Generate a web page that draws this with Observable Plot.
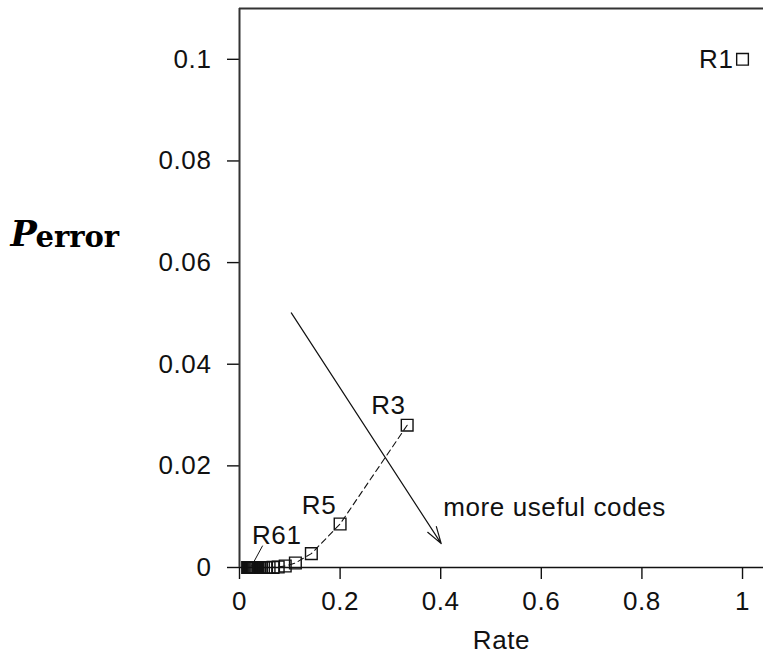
<!DOCTYPE html>
<html>
<head>
<meta charset="utf-8">
<script src="https://cdn.jsdelivr.net/npm/d3@7"></script>
<script src="https://cdn.jsdelivr.net/npm/@observablehq/plot@0.6"></script>
<style>
  html, body { margin: 0; padding: 0; background: #fff; }
  #chart { width: 763px; height: 659px; }
  #chart svg text.sans, #chart svg .sans text { letter-spacing: 0.6px; }
</style>
</head>
<body>
<div id="chart"></div>
<script>
// Repetition codes R_N: rate and bit-error probability (f = 0.1)
const codeNames = ["R1","R3","R5","R7","R9","R11","R13","R15","R17","R19","R21","R23","R25","R27","R29","R31",
                   "R33","R35","R37","R39","R41","R43","R45","R47","R49","R51","R53","R55","R57","R59","R61"];
const rates = [1, 1/3, 1/5, 1/7, 1/9, 1/11, 1/13, 1/15, 1/17, 1/19, 1/21, 1/23, 1/25, 1/27, 1/29, 1/31,
               1/33, 1/35, 1/37, 1/39, 1/41, 1/43, 1/45, 1/47, 1/49, 1/51, 1/53, 1/55, 1/57, 1/59, 1/61];
const perror = [0.1, 0.028, 0.00856, 0.00273, 0.00089, 0.000296, 0.0000993, 0.000034, 0.0000115, 0.0000039,
                0.00000135, 0.00000047, 0.00000016, 0.000000057, 0.00000002, 0.000000007,
                0.0000000025, 0.0000000009, 0.0000000003, 0.0000000001, 0.00000000004, 0.000000000014,
                0.000000000005, 0.0000000000018, 0.0000000000006, 0.0000000000002, 0.00000000000008,
                0.00000000000003, 0.00000000000001, 0.000000000000004, 0.0000000000000015];

const xTicks = [0, 0.2, 0.4, 0.6, 0.8, 1];
const yTicks = [0, 0.02, 0.04, 0.06, 0.08, 0.1];
const xTickLabels = ["0", "0.2", "0.4", "0.6", "0.8", "1"];
const yTickLabels = ["0", "0.02", "0.04", "0.06", "0.08", "0.1"];

// annotation labels (in data units)
const labelText = ["R3", "R5", "R61"];
const labelX = [0.296, 0.158, 0.074];
const labelY = [0.0319, 0.0122, 0.0063];
const r1Label = "R1";
const arrowFrom = [0.103, 0.0501];
const arrowTo = [0.401, 0.0047];
const leaderFrom = [0.046, 0.0043];
const leaderTo = [0.0235, 0.0002];
const noteText = "more useful codes";
const notePos = [0.405, 0.0118];

const codes = codeNames.map((name, i) => ({name, rate: rates[i], p: perror[i]}));
const labels = labelText.map((t, i) => ({t, x: labelX[i], y: labelY[i]}));

const font = "Liberation Sans, Arial, Helvetica, sans-serif";
const ink = "#111";
const fs = 26;

const chart = Plot.plot({
  width: 763,
  height: 659,
  marginLeft: 239,
  marginRight: 0,
  marginTop: 8,
  marginBottom: 92,
  style: {fontFamily: font, fontSize: fs + "px", color: ink, background: "#fff", overflow: "visible"},
  x: {domain: [0, 1.0417]},
  y: {domain: [0, 0.11]},
  marks: [
    Plot.axisX({ticks: xTicks, tickFormat: (d, i) => xTickLabels[i], tickSize: 12, tickPadding: 12,
                label: null, fontSize: fs, stroke: ink, strokeWidth: 1.4, className: "sans"}),
    Plot.axisY({ticks: yTicks, tickFormat: (d, i) => yTickLabels[i], tickSize: 12, tickPadding: 16,
                label: null, fontSize: fs, stroke: ink, strokeWidth: 1.4, className: "sans"}),
    Plot.ruleY([0], {stroke: ink, strokeWidth: 1.4}),
    Plot.ruleY([0.11], {stroke: "#333", strokeWidth: 2}),
    Plot.ruleX([0], {stroke: "#333", strokeWidth: 2}),
    // dashed line through R3 ... R61
    Plot.line(codes.slice(1), {x: "rate", y: "p", stroke: ink, strokeWidth: 1.1, strokeDasharray: "6,4"}),
    // square markers
    Plot.dot(codes, {x: "rate", y: "p", symbol: "square", r: 6.6, stroke: ink, strokeWidth: 1.4, fill: "none"}),
    // code labels
    Plot.text(labels, {x: "x", y: "y", text: "t", fontSize: fs, fill: ink, textAnchor: "middle", className: "sans"}),
    Plot.text([r1Label], {x: () => rates[0], y: () => perror[0], dx: -9, text: d => d, textAnchor: "end",
                          fontSize: fs, fill: ink, className: "sans"}),
    // leader line for R61
    Plot.link([0], {x1: () => leaderFrom[0], y1: () => leaderFrom[1], x2: () => leaderTo[0], y2: () => leaderTo[1],
                    stroke: ink, strokeWidth: 1}),
    // arrow
    Plot.arrow([0], {x1: () => arrowFrom[0], y1: () => arrowFrom[1], x2: () => arrowTo[0], y2: () => arrowTo[1],
                     stroke: ink, strokeWidth: 1.2, headAngle: 34, headLength: 22}),
    Plot.text([noteText], {x: () => notePos[0], y: () => notePos[1], text: d => d, textAnchor: "start",
                           fontSize: fs, fill: ink, className: "sans"}),
    // axis title
    Plot.text(["Rate"], {frameAnchor: "bottom", lineAnchor: "middle", dy: 73, text: d => d, fontSize: fs,
                         fill: ink, className: "sans"}),
    // y-axis title: P_error
    Plot.text(["P"], {y: () => 0.0655, frameAnchor: "left", dx: -229, textAnchor: "start", text: d => d,
                      fontFamily: "DejaVu Serif, serif", fontStyle: "italic", fontWeight: "bold", fontSize: 35, fill: "#000"}),
    Plot.text(["error"], {y: () => 0.0655, frameAnchor: "left", dx: -204, dy: 3, textAnchor: "start", text: d => d,
                          fontFamily: "DejaVu Serif, serif", fontWeight: "bold", fontSize: 29, fill: "#000"})
  ]
});
document.getElementById("chart").appendChild(chart);
</script>
</body>
</html>
